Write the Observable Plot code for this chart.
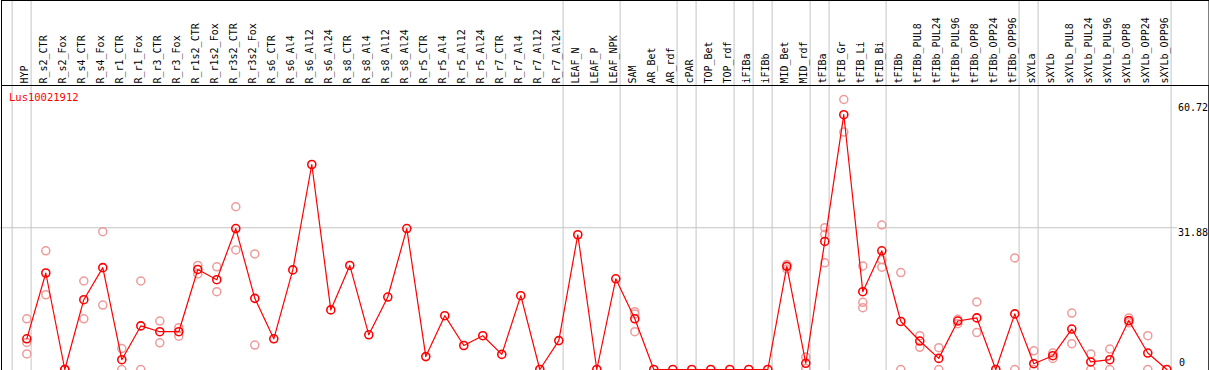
<!DOCTYPE html>
<html>
<head>
<meta charset="utf-8">
<script src="https://cdn.jsdelivr.net/npm/d3@7"></script>
<script src="https://cdn.jsdelivr.net/npm/@observablehq/plot@0.6"></script>
<style>
  html, body { margin: 0; padding: 0; background: #ffffff; }
  #chart svg { display: block; }
</style>
</head>
<body>
<div id="chart"></div>
<script>
const geneId = "Lus10021912";

const categories = [
  "HYP", "R_s2_CTR", "R_s2_Fox", "R_s4_CTR", "R_s4_Fox", "R_r1_CTR", "R_r1_Fox",
  "R_r3_CTR", "R_r3_Fox", "R_r1s2_CTR", "R_r1s2_Fox", "R_r3s2_CTR", "R_r3s2_Fox",
  "R_s6_CTR", "R_s6_Al4", "R_s6_Al12", "R_s6_Al24", "R_s8_CTR", "R_s8_Al4",
  "R_s8_Al12", "R_s8_Al24", "R_r5_CTR", "R_r5_Al4", "R_r5_Al12", "R_r5_Al24",
  "R_r7_CTR", "R_r7_Al4", "R_r7_Al12", "R_r7_Al24", "LEAF_N", "LEAF_P", "LEAF_NPK",
  "SAM", "AR_Bet", "AR_rdf", "cPAR", "TOP_Bet", "TOP_rdf", "iFIBa", "iFIBb",
  "MID_Bet", "MID_rdf", "tFIBa", "tFIB_Gr", "tFIB_Li", "tFIB_Bi", "tFIBb",
  "tFIBb_PUL8", "tFIBb_PUL24", "tFIBb_PUL96", "tFIBb_OPP8", "tFIBb_OPP24", "tFIBb_OPP96",
  "sXYLa", "sXYLb", "sXYLb_PUL8", "sXYLb_PUL24", "sXYLb_PUL96", "sXYLb_OPP8",
  "sXYLb_OPP24", "sXYLb_OPP96"
];

const meanValues = [
  6.9, 21.7, 0, 15.7, 22.9, 2.2, 9.8, 8.5, 8.5, 22.5, 20.2, 31.7, 16.0,
  6.9, 22.4, 46.1, 13.4, 23.4, 7.8, 16.3, 31.7, 2.9, 12.1, 5.4, 7.6,
  3.4, 16.6, 0, 6.5, 30.3, 0, 20.4,
  11.4, 0, 0, 0, 0, 0, 0, 0,
  23.2, 1.4, 28.8, 57.3, 17.5, 26.7, 10.8,
  6.4, 2.5, 10.9, 11.6, 0, 12.5,
  1.3, 3.1, 9.1, 1.7, 2.2, 11.0, 3.7, 0
];

// replicate values per category (index-aligned with categories)
const replicateValues = [
  [11.4, 6.1, 3.5], [26.7, 16.8], [0, 0], [19.9, 11.4], [31.0, 14.5], [4.7, 0], [19.9, 0],
  [10.9, 6.0], [9.4, 7.5], [23.4, 21.5], [23.1, 17.5], [36.6, 26.9], [26.0, 5.5],
  [], [], [], [], [], [], [], [], [], [], [], [],
  [], [], [], [], [], [], [],
  [13.0, 12.5, 8.5], [], [], [], [], [], [], [],
  [23.6, 22.6], [2.8, 0.2], [31.9, 30.4, 24.0], [60.72, 53.4], [23.3, 15.1, 13.9], [32.5, 24.7, 23.0], [21.8, 0],
  [7.6, 5.0], [4.9, 0], [11.3, 10.3], [15.2, 8.3], [], [25.1, 0],
  [4.2, 0], [3.7, 2.5], [12.7, 5.8], [3.5, 0], [4.6, 0], [11.6, 10.5], [7.6, 0], []
];

// group separators drawn after these category indices (-1 = before the first)
const groupBreaksAfter = [-1, 0, 28, 31, 34, 35, 37, 38, 39, 41, 42, 45, 52, 53, 60];

const yMax = 60.72;
const tickValues = [60.72, 31.88, 0];
const tickLabels = ["60.72", "31.88", "0"];
const gridValues = [31.88];

const means = categories.map((c, i) => ({i, name: c, v: meanValues[i]}));
const reps = replicateValues.flatMap((arr, i) => arr.map(v => ({i, v})));
const breaks = groupBreaksAfter.map(b => ({x: b + 0.226}));
const ticks = tickValues.map((v, k) => ({v, label: tickLabels[k]}));

const RED = "#ff0000";
const PINK = "#ef9a9a";
const GRID = "#c4c4c4";

const plot = Plot.plot({
  width: 1209,
  height: 370,
  margin: 0,
  x: {type: "linear", domain: [0, categories.length - 1], range: [26.3, 1166.3], axis: null},
  y: {type: "linear", domain: [0, yMax], range: [369, 99], axis: null},
  style: {fontFamily: "'DejaVu Sans Mono', monospace", fontSize: "10px", background: "#ffffff", color: "#000"},
  marks: [
    Plot.ruleY(gridValues, {stroke: GRID, strokeWidth: 1, insetRight: 32}),
    Plot.ruleX(breaks, {x: "x", stroke: GRID, strokeWidth: 1}),
    Plot.frame({stroke: "#000", strokeWidth: 1, insetLeft: 1, insetRight: 0.5}),
    Plot.frame({stroke: "#000", strokeWidth: 1, insetTop: 85, insetLeft: 1, insetRight: 0.5}),
    // header category labels
    Plot.text(means, {
      x: "i", text: "name", frameAnchor: "top", dy: 83, dx: -2.5,
      rotate: -90, textAnchor: "start", lineAnchor: "middle", fill: "#000", fontSize: 10
    }),
    // gene id
    Plot.text([geneId], {
      frameAnchor: "top-left", text: d => d, dx: 8.5, dy: 97,
      textAnchor: "start", lineAnchor: "middle", fill: RED, fontSize: 10.5
    }),
    // y tick labels
    Plot.text(ticks.filter(d => d.v === tickValues[0]), {
      y: "v", text: "label", frameAnchor: "left", dx: 1177.5, dy: 8,
      textAnchor: "start", lineAnchor: "middle", fill: "#000", fontSize: 10
    }),
    Plot.text(ticks.filter(d => d.v === tickValues[1]), {
      y: "v", text: "label", frameAnchor: "left", dx: 1177.5, dy: 5,
      textAnchor: "start", lineAnchor: "middle", fill: "#000", fontSize: 10
    }),
    Plot.text(ticks.filter(d => d.v === tickValues[2]), {
      y: "v", text: "label", frameAnchor: "left", dx: 1178.5, dy: -7,
      textAnchor: "start", lineAnchor: "middle", fill: "#000", fontSize: 10
    }),
    // replicates
    Plot.dot(reps, {x: "i", y: "v", r: 4, stroke: PINK, strokeWidth: 1.5, fill: "none"}),
    // mean line and points
    Plot.line(means, {x: "i", y: "v", stroke: RED, strokeWidth: 1.2}),
    Plot.dot(means, {x: "i", y: "v", r: 4, stroke: RED, strokeWidth: 1.6, fill: "none"})
  ]
});

document.getElementById("chart").appendChild(plot);
</script>
</body>
</html>
